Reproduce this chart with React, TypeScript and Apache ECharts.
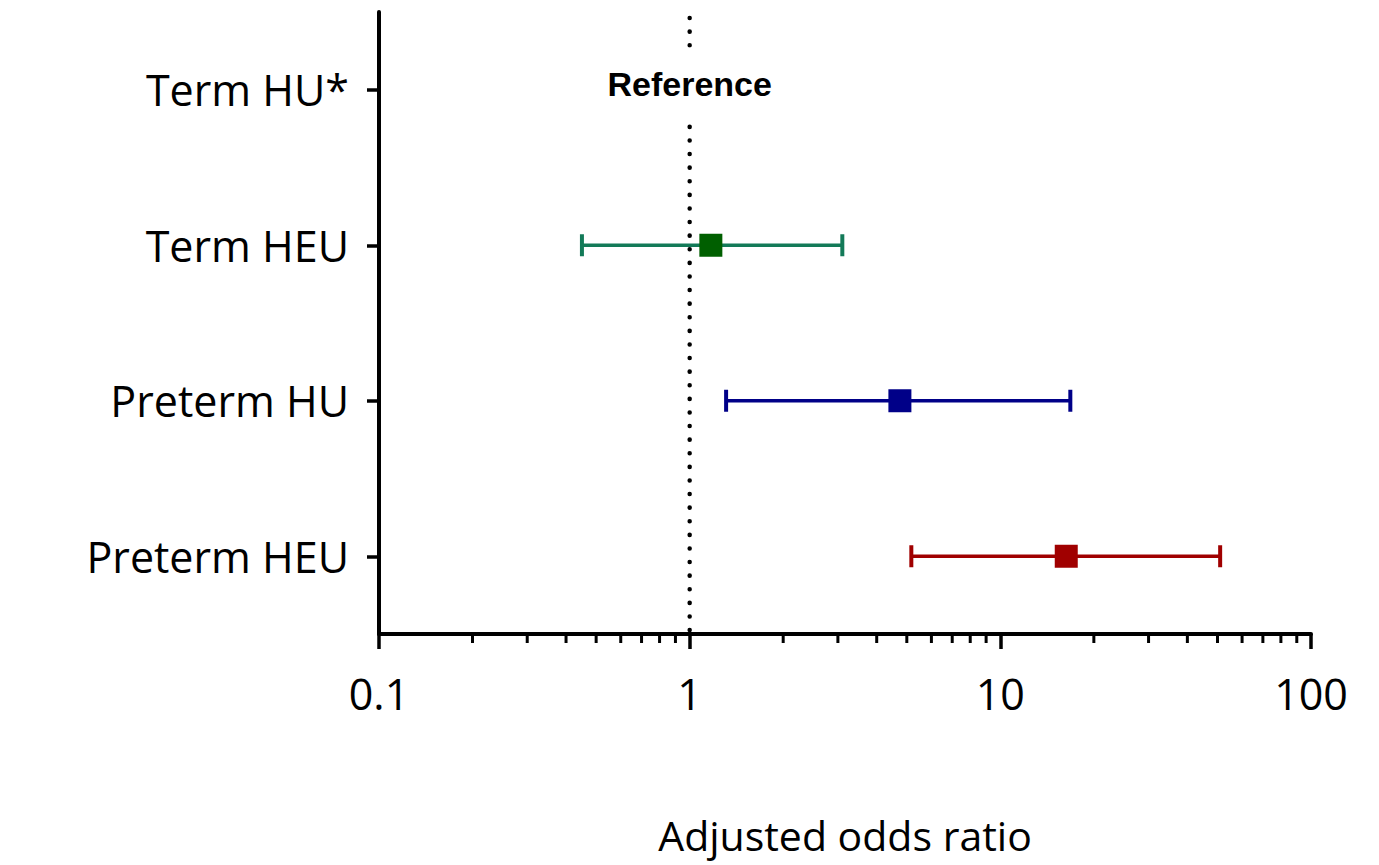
import React, { useEffect, useRef } from 'react';
import * as echarts from 'echarts';

const categories = ['Preterm HEU', 'Preterm HU', 'Term HEU', 'Term HU*'];
const groupNames = ['Term HEU', 'Preterm HU', 'Preterm HEU'];
const oddsRatios = [1.17, 4.75, 16.3];
const lowerCI = [0.45, 1.31, 5.17];
const upperCI = [3.1, 16.8, 51];
const lineColors = ['#137a58', '#000088', '#a00000'];
const markerColors = ['#005f00', '#000088', '#a00000'];
const xTickLabels = ['0.1', '1', '10', '100'];
const minorTickValues = [0.2, 0.3, 0.4, 0.5, 0.6, 0.7, 0.8, 0.9, 2, 3, 4, 5, 6, 7, 8, 9, 20, 30, 40, 50, 60, 70, 80, 90];
const referenceValue = 1;
const referenceCategory = 'Term HU*';
const referenceLabel = 'Reference';
const xAxisName = 'Adjusted odds ratio';

const LABEL_FONT = '"Open Sans", "Noto Sans", sans-serif';

export default function App() {
  const ref = useRef<HTMLDivElement>(null);
  useEffect(() => {
    if (!ref.current) return;
    const chart = echarts.init(ref.current, undefined, { renderer: 'svg' });

    const groupSeries = groupNames.map((name, i) => ({
      type: 'custom',
      name,
      clip: false,
      z: 5,
      encode: { x: [0, 2, 3], y: 1 },
      data: [[oddsRatios[i], name, lowerCI[i], upperCI[i]]],
      renderItem: (params: any, api: any) => {
        const cat = api.value(1);
        const p = api.coord([api.value(0), cat]);
        const lo = api.coord([api.value(2), cat]);
        const hi = api.coord([api.value(3), cat]);
        const y = p[1];
        const capH = 11;
        const sq = 23;
        return {
          type: 'group',
          children: [
            { type: 'line', shape: { x1: lo[0], y1: y, x2: hi[0], y2: y }, style: { stroke: lineColors[i], lineWidth: 3.5 } },
            { type: 'line', shape: { x1: lo[0], y1: y - capH, x2: lo[0], y2: y + capH }, style: { stroke: lineColors[i], lineWidth: 4 } },
            { type: 'line', shape: { x1: hi[0], y1: y - capH, x2: hi[0], y2: y + capH }, style: { stroke: lineColors[i], lineWidth: 4 } },
            { type: 'rect', shape: { x: p[0] - sq / 2, y: y - sq / 2, width: sq, height: sq }, style: { fill: markerColors[i] } },
          ],
        };
      },
    }));

    const option: any = {
      animation: false,
      grid: { left: 379, right: 68, top: 12, bottom: 231, containLabel: false },
      xAxis: {
        type: 'log',
        logBase: 10,
        min: 0.1,
        max: 100,
        name: xAxisName,
        nameLocation: 'middle',
        nameGap: 180,
        nameTextStyle: { fontSize: 41, fontFamily: LABEL_FONT, color: '#000' },
        axisLine: { show: true, lineStyle: { color: '#000', width: 4 } },
        axisTick: { show: true, length: 15, lineStyle: { color: '#000', width: 3.5 } },
        splitLine: { show: false },
        minorTick: { show: false },
        axisLabel: {
          fontSize: 43,
          fontFamily: LABEL_FONT,
          color: '#000',
          margin: 38,
          formatter: (v: number) => {
            const idx = Math.round(Math.log10(v)) + 1;
            return xTickLabels[idx] ?? String(v);
          },
        },
      },
      yAxis: {
        type: 'category',
        data: categories,
        boundaryGap: true,
        axisLine: { show: true, lineStyle: { color: '#000', width: 4 } },
        axisTick: { show: true, alignWithLabel: true, length: 12, lineStyle: { color: '#000', width: 3.5 } },
        splitLine: { show: false },
        axisLabel: { fontSize: 43, fontFamily: LABEL_FONT, color: '#000', margin: 30 },
      },
      series: [
        {
          type: 'custom',
          name: 'minorTicks',
          silent: true,
          clip: false,
          z: 3,
          encode: { x: 0, y: 1 },
          data: minorTickValues.map((v) => [v, categories[0]]),
          renderItem: (params: any, api: any) => {
            const x = api.coord([api.value(0), api.value(1)])[0];
            const cs = params.coordSys;
            const y0 = cs.y + cs.height;
            return {
              type: 'line',
              shape: { x1: x, y1: y0, x2: x, y2: y0 + 9 },
              style: { stroke: '#000', lineWidth: 3 },
            };
          },
        },
        {
          type: 'custom',
          name: 'reference',
          silent: true,
          clip: false,
          z: 2,
          encode: { x: 0, y: 1 },
          data: [[referenceValue, referenceCategory]],
          renderItem: (params: any, api: any) => {
            const p = api.coord([api.value(0), api.value(1)]);
            const cs = params.coordSys;
            return {
              type: 'group',
              children: [
                {
                  type: 'line',
                  shape: { x1: p[0], y1: cs.y + 6, x2: p[0], y2: cs.y + cs.height },
                  style: { stroke: '#000', lineWidth: 4.5, lineDash: [0.1, 13.5], lineCap: 'round' },
                },
                {
                  type: 'text',
                  x: p[0],
                  y: p[1] - 6,
                  style: {
                    text: referenceLabel,
                    fill: '#000',
                    font: 'bold 34px "Liberation Sans", Arial, sans-serif',
                    align: 'center',
                    verticalAlign: 'middle',
                    backgroundColor: '#fff',
                    padding: [16, 8, 22, 8],
                  },
                },
              ],
            };
          },
        },
        ...groupSeries,
      ],
    };
    chart.setOption(option);
    return () => chart.dispose();
  }, []);

  return <div ref={ref} style={{ width: 1379, height: 865, position: 'absolute', left: 0, top: 0, background: '#fff' }} />;
}
